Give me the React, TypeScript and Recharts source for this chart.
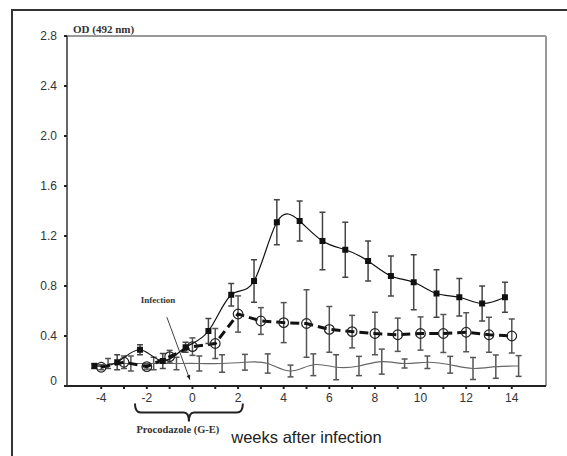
import { ComposedChart, Line, XAxis, YAxis, ErrorBar, ReferenceLine } from 'recharts'

// weeks after infection and OD values
const untreatedWeeks = [-4.3, -3.3, -2.3, -1.3, -0.3, 0.7, 1.7, 2.7, 3.7, 4.7, 5.7, 6.7, 7.7, 8.7, 9.7, 10.7, 11.7, 12.7, 13.7]
const untreatedOD = [0.16, 0.19, 0.29, 0.2, 0.31, 0.44, 0.73, 0.84, 1.31, 1.32, 1.16, 1.09, 1.0, 0.88, 0.83, 0.74, 0.71, 0.66, 0.71]
const untreatedSD = [0.02, 0.06, 0.04, 0.06, 0.04, 0.1, 0.09, 0.17, 0.18, 0.16, 0.23, 0.22, 0.16, 0.16, 0.22, 0.19, 0.15, 0.14, 0.12]

const treatedWeeks = [-4, -3, -2, -1, 0, 1, 2, 3, 4, 5, 6, 7, 8, 9, 10, 11, 12, 13, 14]
const treatedOD = [0.15, 0.19, 0.155, 0.235, 0.315, 0.34, 0.576, 0.52, 0.507, 0.5, 0.453, 0.435, 0.42, 0.41, 0.42, 0.42, 0.43, 0.41, 0.4]
const treatedSD = [0.02, 0.05, 0.02, 0.05, 0.07, 0.12, 0.145, 0.107, 0.16, 0.27, 0.183, 0.13, 0.17, 0.133, 0.133, 0.152, 0.156, 0.14, 0.136]

const controlWeeks = [-3.7, -2.7, -1.7, -0.7, 0.3, 1.3, 2.3, 3.3, 4.3, 5.3, 6.3, 7.3, 8.3, 9.3, 10.3, 11.3, 12.3, 13.3, 14.3]
const controlOD = [0.18, 0.18, 0.18, 0.18, 0.18, 0.18, 0.19, 0.18, 0.12, 0.17, 0.15, 0.16, 0.195, 0.18, 0.19, 0.17, 0.14, 0.155, 0.16]
const controlSD = [0.04, 0.06, 0.05, 0.05, 0.06, 0.07, 0.063, 0.077, 0.047, 0.087, 0.1, 0.077, 0.1, 0.036, 0.05, 0.067, 0.088, 0.093, 0.083]

const xTicks = [-4, -3, -2, -1, 0, 1, 2, 3, 4, 5, 6, 7, 8, 9, 10, 11, 12, 13, 14]
const yTicks = [0, 0.4, 0.8, 1.2, 1.6, 2.0, 2.4, 2.8]

const toRows = (xs: number[], ys: number[], es: number[]) =>
  xs.map((x, i) => ({ x, y: ys[i], e: es[i] }))

const untreated = toRows(untreatedWeeks, untreatedOD, untreatedSD)
const treated = toRows(treatedWeeks, treatedOD, treatedSD)
const control = toRows(controlWeeks, controlOD, controlSD)

const sans = '"Liberation Sans", Arial, sans-serif'
const serif = '"Liberation Serif", "Times New Roman", serif'

const SquareDot = (p: any) => (
  <rect key={p.key ?? p.index} x={p.cx - 3} y={p.cy - 3} width={6} height={6} fill="#111" />
)
const CircleDot = (p: any) => (
  <circle key={p.key ?? p.index} cx={p.cx} cy={p.cy} r={4.8} fill="none" stroke="#222" strokeWidth={1.2} />
)

const YTick = (p: any) => (
  <text x={p.x} y={p.y + (p.payload.value === 0 ? -1 : 4)} textAnchor="end" fontSize={12} fill="#333" fontFamily={sans}>
    {p.payload.value === 0 ? '0' : p.payload.value.toFixed(1)}
  </text>
)

const InfectionArrow = (p: any) => {
  const { x1, y1, x2, y2 } = p
  const a = Math.atan2(y2 - y1, x2 - x1)
  const h = 5
  return (
    <g>
      <text x={x1 - 9} y={y1 - 14} textAnchor="middle" fontSize={9} fontWeight="bold" fill="#333" fontFamily={serif}>
        Infection
      </text>
      <line x1={x1} y1={y1} x2={x2} y2={y2} stroke="#444" strokeWidth={1} />
      <path
        d={`M${x2},${y2} L${x2 - h * Math.cos(a - 0.4)},${y2 - h * Math.sin(a - 0.4)} L${x2 - h * Math.cos(a + 0.4)},${y2 - h * Math.sin(a + 0.4)} Z`}
        fill="#222"
      />
    </g>
  )
}

const Brace = (p: any) => {
  const { x1, y1, x2 } = p
  const m = (x1 + x2) / 2
  const d = 9
  const path = `M${x1},${y1} Q${x1},${y1 + d} ${x1 + 6},${y1 + d} L${m - 5},${y1 + d} Q${m},${y1 + d} ${m},${y1 + d + 9} Q${m},${y1 + d} ${m + 5},${y1 + d} L${x2 - 6},${y1 + d} Q${x2},${y1 + d} ${x2},${y1}`
  return (
    <g>
      <path d={path} fill="none" stroke="#222" strokeWidth={2} />
      <text x={m - 11} y={y1 + 29} textAnchor="middle" fontSize={10.5} fontWeight="bold" fill="#333" fontFamily={serif}>
        Procodazole (G-E)
      </text>
    </g>
  )
}

export default function App() {
  return (
    <div style={{ position: 'absolute', left: 0, top: 0, width: 567, height: 456, background: '#fff' }}>
      <div
        style={{
          position: 'absolute',
          left: 11,
          top: 9,
          width: 580,
          height: 460,
          borderLeft: '2px solid #333',
          borderTop: '2px solid #333',
        }}
      />
      <ComposedChart width={567} height={456} margin={{ top: 36, right: 21, left: 0, bottom: 40 }} style={{ position: 'absolute', left: 0, top: 0 }}>
        <XAxis
          type="number"
          dataKey="x"
          domain={[-5.5, 15.5]}
          ticks={xTicks}
          interval={0}
          allowDataOverflow
          height={30}
          tickFormatter={(v: number) => (v % 2 === 0 ? String(v) : '')}
          tick={{ fill: '#333', fontSize: 12, fontFamily: sans }}
          tickSize={3}
          tickMargin={4}
          axisLine={{ stroke: '#222', strokeWidth: 2 }}
          tickLine={{ stroke: '#222', strokeWidth: 2 }}
          label={{
            content: (lp: any) => (
              <text x={lp.viewBox.x + lp.viewBox.width / 2} y={lp.viewBox.y + 57} textAnchor="middle" fontSize={16.5} fill="#222" fontFamily={sans}>
                weeks after infection
              </text>
            ),
          }}
        />
        <YAxis
          type="number"
          domain={[0, 2.8]}
          ticks={yTicks}
          interval={0}
          width={67}
          tick={<YTick />}
          tickSize={3}
          tickMargin={7}
          axisLine={{ stroke: '#333', strokeWidth: 1.5 }}
          tickLine={{ stroke: '#222', strokeWidth: 2 }}
          label={{
            content: (lp: any) => (
              <text x={lp.viewBox.x + lp.viewBox.width + 6} y={lp.viewBox.y - 3} fontSize={11} fontWeight="bold" fill="#333" fontFamily={serif}>
                OD (492 nm)
              </text>
            ),
          }}
        />
        <ReferenceLine y={2.8} stroke="#999" strokeWidth={2} />
        <ReferenceLine x={15.5} stroke="#999" strokeWidth={2} />
        <ReferenceLine
          segment={[{ x: -1.12, y: 0.55 }, { x: -0.11, y: 0.05 }]}
          ifOverflow="visible"
          shape={<InfectionArrow />}
        />
        <ReferenceLine
          segment={[{ x: -2.52, y: -0.14 }, { x: 2.21, y: -0.14 }]}
          ifOverflow="visible"
          shape={<Brace />}
        />
        <Line
          data={control}
          dataKey="y"
          type="natural"
          stroke="#666"
          strokeWidth={1.2}
          dot={false}
          isAnimationActive={false}
        >
          <ErrorBar dataKey="e" direction="y" width={3} stroke="#555" strokeWidth={1.5} />
        </Line>
        <Line
          data={treated}
          dataKey="y"
          type="linear"
          stroke="#111"
          strokeWidth={3}
          strokeDasharray="9 5"
          dot={<CircleDot />}
          isAnimationActive={false}
        >
          <ErrorBar dataKey="e" direction="y" width={3} stroke="#555" strokeWidth={1.5} />
        </Line>
        <Line
          data={untreated}
          dataKey="y"
          type="natural"
          stroke="#111"
          strokeWidth={1.2}
          dot={<SquareDot />}
          isAnimationActive={false}
        >
          <ErrorBar dataKey="e" direction="y" width={3} stroke="#444" strokeWidth={1.5} />
        </Line>
      </ComposedChart>
    </div>
  )
}
